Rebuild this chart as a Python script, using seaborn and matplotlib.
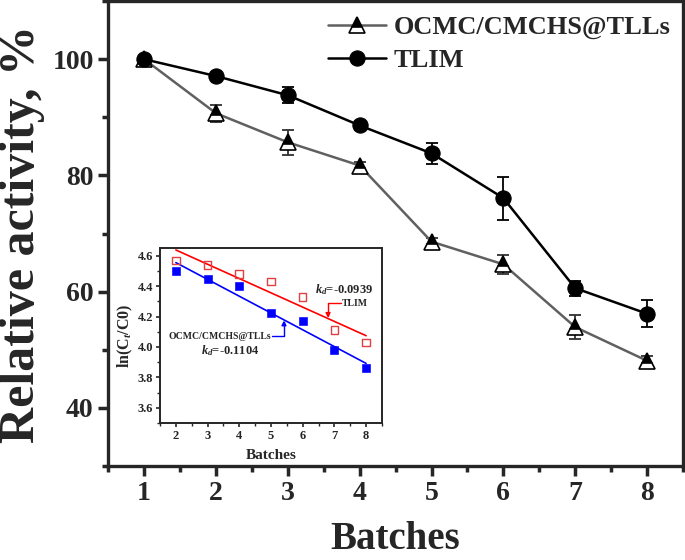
import numpy as np
import pandas as pd
import matplotlib
matplotlib.use("Agg")
import matplotlib.pyplot as plt
from matplotlib.ticker import MultipleLocator
import seaborn as sns

# main data: relative activity (%) over batches
batches = [1, 2, 3, 4, 5, 6, 7, 8]
ocmc = [100, 90.7, 85.7, 81.7, 68.6, 64.7, 53.9, 48.1]
ocmc_err = [0.5, 1.5, 2.1, 0.6, 0.6, 1.6, 2.1, 0.8]
tlim = [100, 97.1, 93.8, 88.6, 83.8, 76.1, 60.6, 56.2]
tlim_err = [0.5, 0.6, 1.4, 0.7, 1.8, 3.7, 1.3, 2.3]

# inset data: ln(Ct/C0)
inset_batches = [2, 3, 4, 5, 6, 7, 8]
ln_tlim = [4.567, 4.539, 4.478, 4.430, 4.330, 4.111, 4.030]
ln_ocmc = [4.500, 4.448, 4.398, 4.220, 4.170, 3.980, 3.863]
kd_tlim, b_tlim = -0.0939, 4.825
kd_ocmc, b_ocmc = -0.1104, 4.775

sns.set_style("ticks")
plt.rcParams['font.family'] = ['Liberation Serif', 'DejaVu Serif']
plt.rcParams['font.weight'] = 'bold'
plt.rcParams['mathtext.fontset'] = 'custom'
plt.rcParams['mathtext.rm'] = 'Liberation Serif:bold'
plt.rcParams['mathtext.it'] = 'Liberation Serif:italic:bold'
plt.rcParams['mathtext.bf'] = 'Liberation Serif:bold'

fig = plt.figure(figsize=(6.85, 5.6), dpi=100)
ax = fig.add_axes([0.158, 0.168, 0.839, 0.830])

df = pd.DataFrame({'batch': batches, 'ocmc': ocmc, 'tlim': tlim})

sns.lineplot(data=df, x='batch', y='ocmc', ax=ax, color='#606060', lw=1.8,
             marker='^', markersize=11, fillstyle='top', markerfacecolor='black',
             markerfacecoloralt='white', markeredgecolor='black', markeredgewidth=1.2,
             label='OCMC/CMCHS@TLLs', zorder=3)
sns.lineplot(data=df, x='batch', y='tlim', ax=ax, color='black', lw=1.8,
             marker='o', markersize=11, markeredgecolor='black',
             label='TLIM', zorder=3)
ax.errorbar(batches, ocmc, yerr=ocmc_err, fmt='none', ecolor='#303030',
            elinewidth=1.3, capsize=4, capthick=1.3, zorder=2)
ax.errorbar(batches, tlim, yerr=tlim_err, fmt='none', ecolor='black',
            elinewidth=1.3, capsize=4, capthick=1.3, zorder=2)

ax.set_xlim(0.5, 8.5)
ax.set_ylim(30, 110)
ax.xaxis.set_major_locator(MultipleLocator(1))
ax.xaxis.set_minor_locator(MultipleLocator(0.5))
ax.set_yticks([40, 60, 80, 100])
ax.yaxis.set_minor_locator(MultipleLocator(10))
ax.tick_params(which='major', direction='out', length=7, width=2.5, labelsize=20)
ax.tick_params(which='minor', direction='out', length=4, width=2.5)
for sp in ax.spines.values():
    sp.set_linewidth(2.4)
for lab in ax.get_xticklabels() + ax.get_yticklabels():
    lab.set_fontweight('bold')

ax.set_xlabel('Batches', fontsize=28, fontweight='bold')
ax.xaxis.label.set_va('baseline')
ax.xaxis.set_label_coords(0.5, -0.178)
ax.set_ylabel('Relative activity, %', fontsize=36, fontweight='bold')
ax.yaxis.set_label_coords(-0.11, 0.5)

leg = ax.legend(loc='upper right', bbox_to_anchor=(1.02, 1.02), frameon=False,
                handlelength=2.2, handletextpad=0.3, labelspacing=0.35,
                prop={'weight': 'bold', 'size': 19})

# inset
ins = fig.add_axes([0.2336, 0.2446, 0.324, 0.3125])
ins_df = pd.DataFrame({'batch': inset_batches, 'ln_tlim': ln_tlim, 'ln_ocmc': ln_ocmc})
sns.scatterplot(data=ins_df, x='batch', y='ln_tlim', ax=ins, marker='s', s=30,
                facecolor='none', edgecolor='#e04040', linewidth=1.0, zorder=3)
sns.scatterplot(data=ins_df, x='batch', y='ln_ocmc', ax=ins, marker='s', s=30,
                color='#0000ff', edgecolor='#0000ff', zorder=3)
fit_x = np.array([2, 8])
ins.plot(fit_x, b_tlim + kd_tlim * fit_x, color='red', lw=1.2)
ins.plot(fit_x, b_ocmc + kd_ocmc * fit_x, color='blue', lw=1.2)

ins.set_xlim(1.5, 8.5)
ins.set_ylim(3.5, 4.65)
ins.xaxis.set_major_locator(MultipleLocator(1))
ins.xaxis.set_minor_locator(MultipleLocator(0.5))
ins.set_yticks([3.6, 3.8, 4.0, 4.2, 4.4, 4.6])
ins.yaxis.set_minor_locator(MultipleLocator(0.1))
ins.tick_params(which='major', direction='out', length=3, width=1.2, labelsize=9, pad=2)
ins.tick_params(which='minor', direction='out', length=2, width=1.0)
for sp in ins.spines.values():
    sp.set_linewidth(1.4)
for lab in ins.get_xticklabels() + ins.get_yticklabels():
    lab.set_fontweight('bold')
ins.set_xlabel('Batches', fontsize=11, fontweight='bold', labelpad=5)
ins.set_ylabel('ln(C$_t$/C0)', fontsize=11.5, fontweight='bold', labelpad=2)

ins.text(7.32, 4.378, '$k_d$=-0.0939', fontsize=9, ha='center', va='center')
ins.text(7.23, 4.286, 'TLIM', fontsize=7, ha='left', va='center')
ins.annotate('', xy=(6.8, 4.19), xytext=(7.2, 4.286),
             arrowprops=dict(arrowstyle='-|>', color='red', lw=1.0, mutation_scale=7,
                             shrinkA=0, shrinkB=0,
                             connectionstyle='angle,angleA=0,angleB=90,rad=0'))
ins.text(5.02, 4.07, 'OCMC/CMCHS@TLLs', fontsize=7, ha='right', va='center')
ins.annotate('', xy=(5.41, 4.175), xytext=(5.04, 4.07),
             arrowprops=dict(arrowstyle='-|>', color='blue', lw=1.0, mutation_scale=7,
                             shrinkA=0, shrinkB=0,
                             connectionstyle='angle,angleA=0,angleB=90,rad=0'))
ins.text(3.70, 3.973, '$k_d$=-0.1104', fontsize=9, ha='center', va='center')

fig.savefig('out.png', dpi=100)
